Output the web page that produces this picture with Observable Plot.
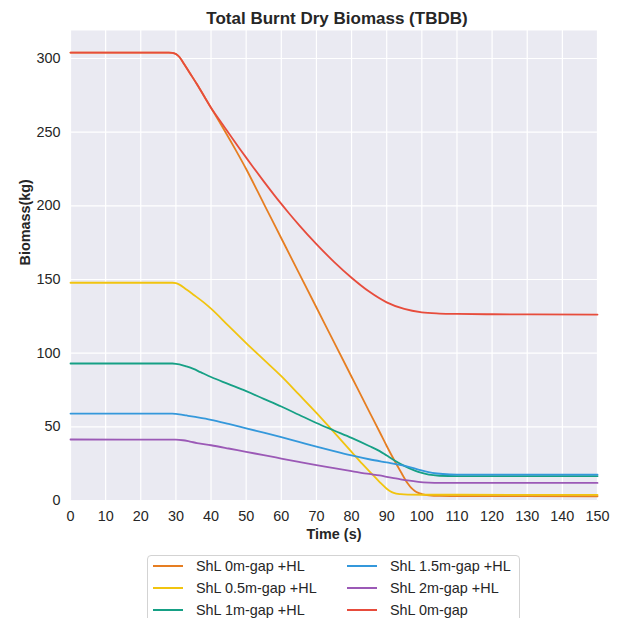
<!DOCTYPE html>
<html>
<head>
<meta charset="utf-8">
<script src="https://cdn.jsdelivr.net/npm/d3@7"></script>
<script src="https://cdn.jsdelivr.net/npm/@observablehq/plot@0.6"></script>
<style>
  html, body { margin: 0; padding: 0; background: white; overflow: hidden; }
  #wrap { position: relative; width: 617px; height: 618px; font-family: "Liberation Sans", Arial, sans-serif; }
  #chart { position: absolute; left: 0; top: 0; }
  #legend { position: absolute; left: 147px; top: 555px; width: 373px; height: 72px; box-sizing: border-box;
            border: 1px solid #d3d3d3; border-radius: 4px; background: white; }
  .item { position: absolute; height: 20px; font-size: 14.4px; color: #262626; line-height: 20px; white-space: nowrap; }
  .swatch { position: absolute; top: 9px; width: 30px; height: 2px; }
  .lab { position: absolute; top: 0; }
</style>
</head>
<body>
<div id="wrap">
  <div id="chart"></div>
  <div id="legend"></div>
</div>
<script>
// ---- Data ----
const title = "Total Burnt Dry Biomass (TBDB)";
const xLabel = "Time (s)";
const yLabel = "Biomass(kg)";
const xTicks = [0, 10, 20, 30, 40, 50, 60, 70, 80, 90, 100, 110, 120, 130, 140, 150];
const yTicks = [0, 50, 100, 150, 200, 250, 300];

const seriesNames = ["ShL 0m-gap +HL", "ShL 0.5m-gap +HL", "ShL 1m-gap +HL", "ShL 1.5m-gap +HL", "ShL 2m-gap +HL", "ShL 0m-gap"];
const seriesColors = ["#e67e22", "#f1c40f", "#16a085", "#3498db", "#9b59b6", "#e74c3c"];

const tOrange = [0, 28, 29, 30, 31, 32, 34, 36, 38, 40, 42, 44, 47, 50, 55, 60, 65, 70, 75, 80, 85, 88, 90, 92, 94, 96, 97, 98, 99, 100, 102, 105, 110, 150];
const vOrange = [304, 304, 303.8, 303, 301, 297.5, 290, 282.5, 274.5, 266.5, 258.5, 250.5, 238, 225, 201.5, 178, 154.5, 131, 107.5, 84, 60.5, 46.5, 37, 28, 19.5, 11.5, 8.5, 6.5, 5.2, 4.4, 3.5, 3.1, 3.0, 2.9];

const tYellow = [0, 29, 30, 31, 33, 35, 38, 40, 45, 50, 55, 60, 65, 70, 74, 77, 80, 83, 86, 88, 90, 91, 92, 94, 96, 100, 110, 150];
const vYellow = [147.8, 147.8, 147.5, 146.5, 143.2, 139.7, 134.3, 130.2, 118.5, 106.8, 95.6, 84.4, 72, 59.5, 49, 41, 33, 25, 17.5, 12.5, 8, 6.3, 5.2, 4.3, 4.0, 3.9, 3.9, 3.8];

const tGreen = [0, 29, 30, 31, 33, 35, 37, 40, 45, 50, 55, 60, 65, 70, 75, 80, 85, 88, 90, 92, 95, 98, 100, 102, 105, 110, 150];
const vGreen = [93, 93, 92.8, 92.4, 91, 89.3, 87.1, 83.8, 79, 74.2, 69, 63.8, 58.2, 52.6, 47.5, 42.5, 37, 33.5, 30.5, 27.5, 23.5, 20.3, 18.7, 17.5, 16.8, 16.5, 16.5];

const tBlue = [0, 29, 30, 31, 33, 35, 40, 45, 50, 55, 60, 65, 70, 75, 80, 85, 90, 93, 96, 99, 101, 103, 106, 110, 150];
const vBlue = [59, 59, 58.8, 58.5, 57.7, 56.9, 54.8, 52, 49, 46, 43, 39.8, 36.6, 33.5, 30.6, 28, 25.8, 24.5, 23, 21, 19.7, 18.8, 18, 17.6, 17.5];

const tPurple = [0, 30, 32, 34, 36, 40, 45, 50, 55, 60, 65, 70, 75, 80, 85, 88, 90, 93, 96, 99, 102, 105, 150];
const vPurple = [41.4, 41.3, 40.9, 40, 39, 37.5, 35.3, 33, 30.8, 28.5, 26.2, 24, 22, 20, 18, 17, 16, 14.8, 13.6, 12.7, 12.2, 12, 11.9];

const tRed = [0, 28, 29, 30, 31, 32, 34, 36, 38, 40, 42, 44, 46, 48, 50, 52, 55, 58, 60, 62, 65, 70, 75, 80, 85, 90, 95, 100, 105, 110, 120, 150];
const vRed = [304, 304, 303.8, 303, 301, 297.5, 290, 282.5, 274.5, 266.5, 259.6, 252.8, 246, 239.3, 232.7, 226.2, 216.6, 207.3, 201.3, 195.5, 187.1, 174, 162, 151.2, 141.8, 134.5, 130, 127.7, 126.9, 126.6, 126.4, 126.2];

const seriesT = [tOrange, tYellow, tGreen, tBlue, tPurple, tRed];
const seriesV = [vOrange, vYellow, vGreen, vBlue, vPurple, vRed];

// ---- Build rows ----
const rows = [];
seriesNames.forEach((name, i) => {
  seriesT[i].forEach((t, j) => rows.push({name, t, v: seriesV[i][j]}));
});

const chart = Plot.plot({
  width: 617,
  height: 548,
  marginTop: 30,
  marginBottom: 48,
  marginLeft: 70,
  marginRight: 20,
  style: {fontFamily: "'Liberation Sans', Arial, sans-serif", fontSize: "14.4px", color: "#262626", background: "white", overflow: "visible"},
  x: {domain: [0, 150], label: null},
  y: {domain: [0, 319], label: null},
  color: {domain: seriesNames, range: seriesColors},
  marks: [
    Plot.frame({fill: "#EAEAF2", stroke: null}),
    Plot.gridX(xTicks, {stroke: "white", strokeOpacity: 1, strokeWidth: 1.2}),
    Plot.gridY(yTicks, {stroke: "white", strokeOpacity: 1, strokeWidth: 1.2}),
    Plot.line(rows, {x: "t", y: "v", z: "name", stroke: "name", strokeWidth: 1.8, curve: "monotone-x"}),
    Plot.axisX(xTicks, {tickSize: 0, tickPadding: 10, label: null, fill: "#262626"}),
    Plot.axisY(yTicks, {tickSize: 0, tickPadding: 10, label: null, fill: "#262626"}),
    Plot.text([xLabel], {frameAnchor: "bottom", lineAnchor: "middle", dy: 34, fontWeight: "bold", fontSize: 14.4, fill: "#262626"}),
    Plot.text([yLabel], {frameAnchor: "left", dx: -45, rotate: -90, fontWeight: "bold", fontSize: 14.4, fill: "#262626"}),
    Plot.text([title], {frameAnchor: "top", lineAnchor: "middle", dy: -12, dx: 3, fontWeight: "bold", fontSize: 17, fill: "#262626"})
  ]
});
document.getElementById("chart").appendChild(chart);

// ---- Legend (2 columns, 3 rows) ----
const legend = document.getElementById("legend");
const colX = [5, 199];
const rowY = [0, 22, 44];
seriesNames.forEach((name, i) => {
  const col = Math.floor(i / 3), row = i % 3;
  const it = document.createElement("div");
  it.className = "item";
  it.style.left = colX[col] + "px";
  it.style.top = rowY[row] + "px";
  const sw = document.createElement("div");
  sw.className = "swatch";
  sw.style.left = "0px";
  sw.style.background = seriesColors[i];
  const lb = document.createElement("div");
  lb.className = "lab";
  lb.style.left = "43px";
  lb.textContent = name;
  it.appendChild(sw);
  it.appendChild(lb);
  legend.appendChild(it);
});
</script>
</body>
</html>
